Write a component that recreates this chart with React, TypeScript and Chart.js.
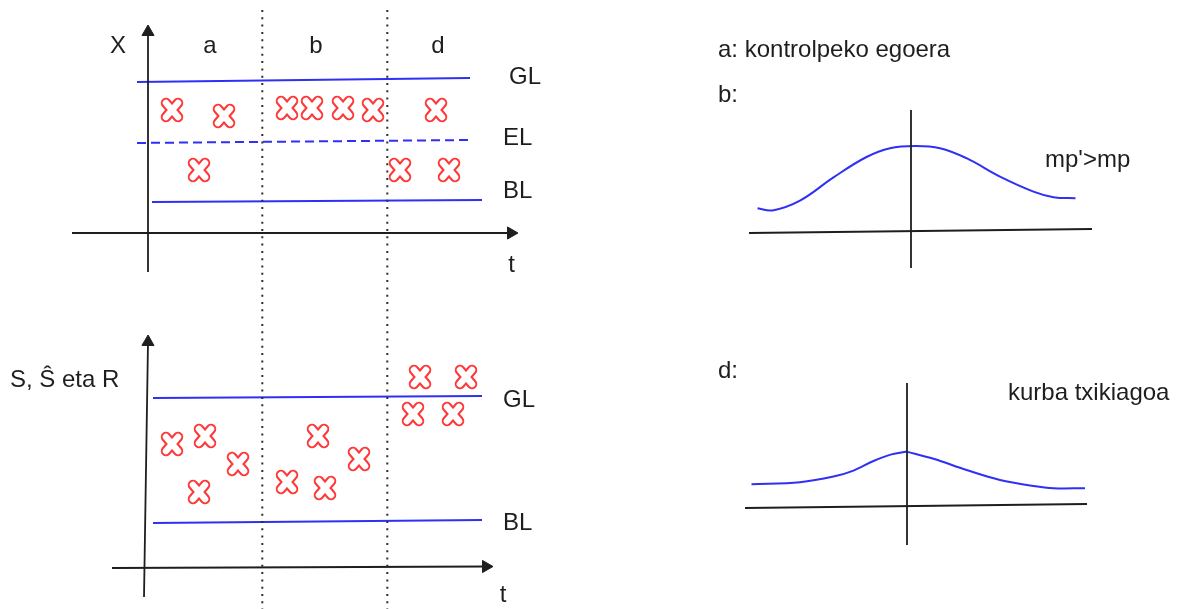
import React, { useEffect, useRef } from 'react';
import { Chart, registerables } from 'chart.js';

Chart.register(...registerables);

// ---------------- Left diagrams: time t, top quantity X, bottom S / Ŝ / R ----------------
const SECTION_LABELS = ['a', 'b', 'd'];
const SECTION_CENTERS_T = [6.3, 16.9, 29.1];
const DIVIDERS_T = [11.53, 24.03];

// top panel (X vs t)
const TOP_GL_T = [-1.0, 32.3];
const TOP_GL_X = [15.1, 15.5];
const TOP_EL_T = [-1.0, 32.3];
const TOP_EL_X = [9.0, 9.3];
const TOP_BL_T = [0.5, 33.5];
const TOP_BL_X = [3.1, 3.3];
const TOP_CROSS_T = [2.5, 7.7, 14.0, 16.5, 19.6, 22.6, 28.9, 5.2, 25.3, 30.2];
const TOP_CROSS_X = [12.3, 11.7, 12.5, 12.5, 12.5, 12.3, 12.3, 6.3, 6.3, 6.3];

// bottom panel (S, Ŝ, R vs t)
const BOT_GL_T = [0.6, 33.5];
const BOT_GL_S = [17.0, 17.2];
const BOT_BL_T = [0.6, 33.5];
const BOT_BL_S = [4.5, 4.8];
const BOT_CROSS_T = [2.5, 5.8, 9.1, 5.2, 14.0, 17.1, 17.8, 21.2, 27.3, 31.9, 26.6, 30.6];
const BOT_CROSS_S = [12.4, 13.2, 10.4, 7.6, 8.6, 13.2, 8.0, 10.9, 19.1, 19.1, 15.4, 15.4];

// ---------------- Right diagrams: distribution curves ----------------
const CURVE_B_Z = [-3.05, -2.75, -2.2, -1.53, -0.87, -0.4, 0.1, 0.6, 1.13, 1.8, 2.47, 2.87, 3.31];
const CURVE_B_F = [0.114, 0.103, 0.152, 0.268, 0.37, 0.414, 0.425, 0.414, 0.364, 0.272, 0.197, 0.169, 0.164];
const CURVE_D_Z = [-3.17, -2.2, -1.53, -1.13, -0.73, -0.37, -0.07, 0.47, 1.13, 1.8, 2.47, 2.87, 3.5];
const CURVE_D_F = [0.109, 0.119, 0.147, 0.177, 0.225, 0.258, 0.272, 0.236, 0.18, 0.13, 0.1, 0.089, 0.089];
const CURVE_D_PEAK = 6; // index of the peak point

const BLUE = '#2f2ff5';
const RED = '#ff3838';
const INK = '#1e1e1e';
const FONT = '24px "Liberation Sans", Arial, sans-serif';

type Lbl = { text: string; x: number; y: number; xAxis: string; yAxis: string; align: CanvasTextAlign };

const LEFT_LABELS: Lbl[] = [
  { text: 'X', x: -2.9, y: 18.0, xAxis: 'x', yAxis: 'yX', align: 'center' },
  ...SECTION_LABELS.map((s, i) => ({ text: s, x: SECTION_CENTERS_T[i], y: 18.0, xAxis: 'x', yAxis: 'yX', align: 'center' as CanvasTextAlign })),
  { text: 'GL', x: 36.2, y: 14.9, xAxis: 'x', yAxis: 'yX', align: 'left' },
  { text: 'EL', x: 35.6, y: 8.8, xAxis: 'x', yAxis: 'yX', align: 'left' },
  { text: 'BL', x: 35.6, y: 3.5, xAxis: 'x', yAxis: 'yX', align: 'left' },
  { text: 't', x: 36.45, y: -3.9, xAxis: 'x', yAxis: 'yX', align: 'center' },
  { text: 'S, Ŝ eta R', x: -13.7, y: 18.1, xAxis: 'x', yAxis: 'yS', align: 'left' },
  { text: 'GL', x: 35.6, y: 16.1, xAxis: 'x', yAxis: 'yS', align: 'left' },
  { text: 'BL', x: 35.6, y: 3.8, xAxis: 'x', yAxis: 'yS', align: 'left' },
  { text: 't', x: 35.6, y: -3.4, xAxis: 'x', yAxis: 'yS', align: 'center' },
];

const RIGHT_LABELS: Lbl[] = [
  { text: 'a: kontrolpeko egoera', x: -3.84, y: 0.87, xAxis: 'z', yAxis: 'yB', align: 'left' },
  { text: 'b:', x: -3.84, y: 0.645, xAxis: 'z', yAxis: 'yB', align: 'left' },
  { text: "mp'>mp", x: 2.7, y: 0.32, xAxis: 'z', yAxis: 'yB', align: 'left' },
  { text: 'd:', x: -3.84, y: 0.64, xAxis: 'z', yAxis: 'yD', align: 'left' },
  { text: 'kurba txikiagoa', x: 1.96, y: 0.53, xAxis: 'z', yAxis: 'yD', align: 'left' },
];

const zip = (xs: number[], ys: number[]) => xs.map((x, i) => ({ x, y: ys[i] }));

function makeCross(): HTMLCanvasElement {
  const c = document.createElement('canvas');
  c.width = 28;
  c.height = 30;
  const g = c.getContext('2d')!;
  g.lineCap = 'round';
  const arms = () => {
    g.beginPath();
    g.moveTo(8, 8);
    g.lineTo(20, 22);
    g.moveTo(20, 8);
    g.lineTo(8, 22);
    g.stroke();
  };
  g.strokeStyle = RED;
  g.lineWidth = 10.5;
  arms();
  g.strokeStyle = '#ffffff';
  g.lineWidth = 6.5;
  arms();
  return c;
}

const labelPlugin = (labels: Lbl[]) => ({
  id: 'textLabels',
  afterDatasetsDraw(chart: any) {
    const ctx = chart.ctx as CanvasRenderingContext2D;
    ctx.save();
    ctx.font = FONT;
    ctx.fillStyle = INK;
    ctx.textBaseline = 'alphabetic';
    for (const l of labels) {
      ctx.textAlign = l.align;
      ctx.fillText(l.text, chart.scales[l.xAxis].getPixelForValue(l.x), chart.scales[l.yAxis].getPixelForValue(l.y));
    }
    ctx.restore();
  },
});

const hiddenScale = (min: number, max: number, axis: 'x' | 'y') => ({
  type: 'linear' as const,
  axis,
  position: axis === 'x' ? ('bottom' as const) : ('left' as const),
  display: false,
  min,
  max,
  bounds: 'data' as const,
  grid: { display: false },
  ticks: { display: false },
});

const lineDs = (data: { x: number; y: number }[], yAxisID: string, color: string, width: number, dash: number[] = [], extra: any = {}) => ({
  data,
  yAxisID,
  xAxisID: extra.xAxisID || 'x',
  showLine: true,
  borderColor: color,
  borderWidth: width,
  borderDash: dash,
  pointRadius: 0,
  fill: false,
  tension: 0,
  ...extra,
});

const arrowDs = (data: { x: number; y: number }[], yAxisID: string, rotation: number) =>
  lineDs(data, yAxisID, INK, 1.8, [], {
    pointRadius: [0, 7],
    pointStyle: 'triangle',
    pointRotation: [0, rotation],
    pointBackgroundColor: INK,
    pointBorderColor: INK,
    pointBorderWidth: 1,
  });

export default function App() {
  const leftRef = useRef<HTMLCanvasElement>(null);
  const rightRef = useRef<HTMLCanvasElement>(null);

  useEffect(() => {
    const cross = makeCross();
    const crossDs = (t: number[], v: number[], yAxisID: string) => ({
      data: zip(t, v),
      yAxisID,
      xAxisID: 'x',
      showLine: false,
      pointStyle: cross,
      pointRadius: 10,
    });

    const left = new Chart(leftRef.current!, {
      type: 'scatter',
      data: {
        datasets: [
          ...DIVIDERS_T.map((t) => lineDs([{ x: t, y: 22.3 }, { x: t, y: -37.6 }], 'yX', '#2e2e2e', 2, [2, 5.3])),
          arrowDs([{ x: 0.1, y: -3.9 }, { x: 0.1, y: 20.1 }], 'yX', 0),
          arrowDs([{ x: -7.5, y: 0 }, { x: 36.4, y: 0 }], 'yX', 90),
          lineDs(zip(TOP_GL_T, TOP_GL_X), 'yX', BLUE, 2),
          lineDs(zip(TOP_EL_T, TOP_EL_X), 'yX', BLUE, 2, [9, 5]),
          lineDs(zip(TOP_BL_T, TOP_BL_X), 'yX', BLUE, 2),
          crossDs(TOP_CROSS_T, TOP_CROSS_X, 'yX'),
          arrowDs([{ x: -0.3, y: -2.9 }, { x: 0.1, y: 22.6 }], 'yS', 1),
          arrowDs([{ x: -3.5, y: 0 }, { x: 33.9, y: 0.15 }], 'yS', 90),
          lineDs(zip(BOT_GL_T, BOT_GL_S), 'yS', BLUE, 2),
          lineDs(zip(BOT_BL_T, BOT_BL_S), 'yS', BLUE, 2),
          crossDs(BOT_CROSS_T, BOT_CROSS_S, 'yS'),
        ] as any,
      },
      options: {
        animation: false,
        responsive: false,
        events: [],
        layout: { padding: 0, autoPadding: false },
        plugins: { legend: { display: false }, tooltip: { enabled: false }, title: { display: false } },
        scales: {
          x: hiddenScale(-14.7, 41.3, 'x'),
          yX: hiddenScale(-37.6, 23.3, 'y'),
          yS: hiddenScale(-4.1, 56.8, 'y'),
        } as any,
      },
      plugins: [labelPlugin(LEFT_LABELS)],
    });

    const dPts = zip(CURVE_D_Z, CURVE_D_F);
    const right = new Chart(rightRef.current!, {
      type: 'scatter',
      data: {
        datasets: [
          lineDs([{ x: 0.02, y: -0.185 }, { x: 0.02, y: 0.605 }], 'yB', INK, 1.8, [], { xAxisID: 'z' }),
          lineDs([{ x: -3.22, y: -0.01 }, { x: 3.64, y: 0.01 }], 'yB', INK, 1.8, [], { xAxisID: 'z' }),
          lineDs(zip(CURVE_B_Z, CURVE_B_F), 'yB', BLUE, 2, [], { xAxisID: 'z', tension: 0.4 }),
          lineDs([{ x: -0.06, y: -0.195 }, { x: -0.06, y: 0.615 }], 'yD', INK, 1.8, [], { xAxisID: 'z' }),
          lineDs([{ x: -3.3, y: -0.01 }, { x: 3.54, y: 0.01 }], 'yD', INK, 1.8, [], { xAxisID: 'z' }),
          lineDs(dPts.slice(0, CURVE_D_PEAK + 1), 'yD', BLUE, 2, [], { xAxisID: 'z', tension: 0.35 }),
          lineDs(dPts.slice(CURVE_D_PEAK), 'yD', BLUE, 2, [], { xAxisID: 'z', tension: 0.35 }),
        ] as any,
      },
      options: {
        animation: false,
        responsive: false,
        events: [],
        layout: { padding: 0, autoPadding: false },
        plugins: { legend: { display: false }, tooltip: { enabled: false }, title: { display: false } },
        scales: {
          z: hiddenScale(-7, 5.38, 'x'),
          yB: hiddenScale(-1.89, 1.155, 'y'),
          yD: hiddenScale(-0.515, 2.53, 'y'),
        } as any,
      },
      plugins: [labelPlugin(RIGHT_LABELS)],
    });

    return () => {
      left.destroy();
      right.destroy();
    };
  }, []);

  return (
    <div style={{ position: 'absolute', left: 0, top: 0, width: 1179, height: 609, background: '#fff', overflow: 'hidden' }}>
      <canvas ref={leftRef} width={560} height={609} style={{ position: 'absolute', left: 0, top: 0, width: 560, height: 609 }} />
      <canvas ref={rightRef} width={619} height={609} style={{ position: 'absolute', left: 560, top: 0, width: 619, height: 609 }} />
    </div>
  );
}
